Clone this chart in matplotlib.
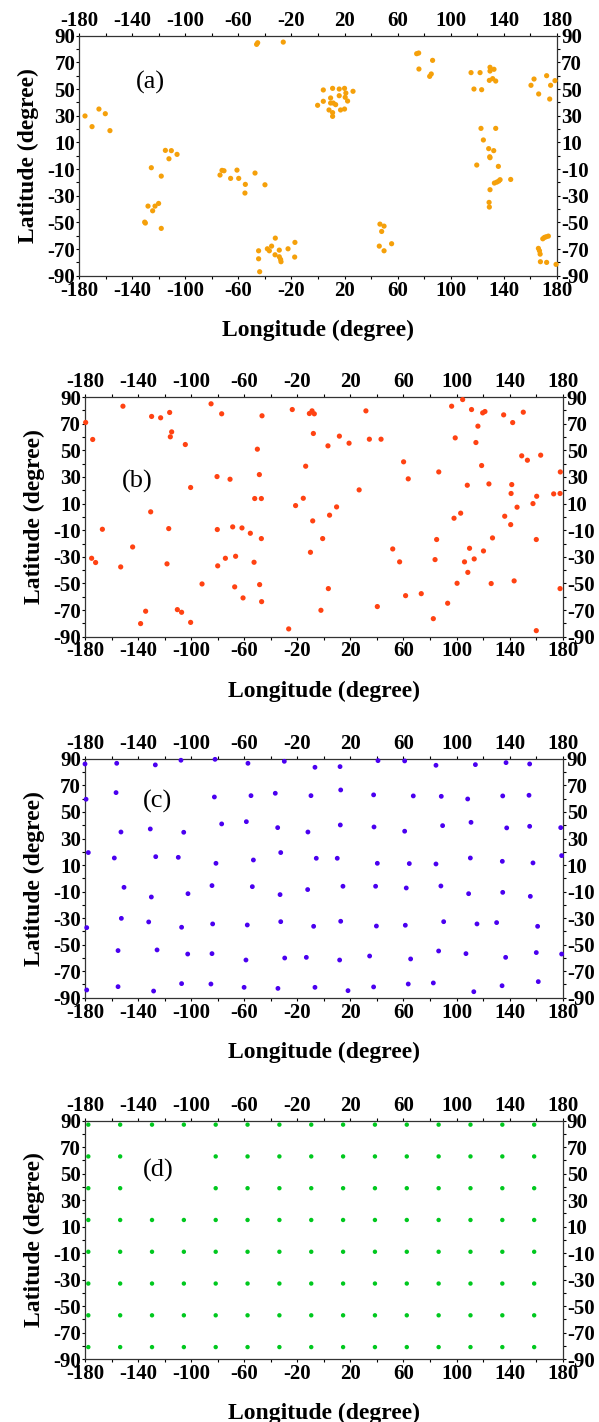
import numpy as np
import matplotlib
matplotlib.use("Agg")
import matplotlib.pyplot as plt
from matplotlib.ticker import MultipleLocator

plt.rcParams['font.family'] = ['Liberation Serif', 'DejaVu Serif']
plt.rcParams['font.weight'] = 'bold'
plt.rcParams['axes.unicode_minus'] = False

# (a) clustered stations
lon_a = [-46.3, -45.5, -26.2, -175.7, -170.4, -165.2, -160.4, -156.9,
         -125.7, -118.2, -115.1, -112.4, -110.6, -106.3,
         -128.2, -124.7, -122.9, -120.2, -130.7, -130.2, -118.2,
         -73.9, -72.4, -70.9, -65.9, -61.1, -59.8, -54.8, -55.1, -47.5, -40.0,
         -44.8, -44.8, -44.0, -38.2, -36.7, -35.0, -32.4, -32.2, -29.2, -29.2,
         -28.2, -27.9, -22.6, -17.4, -17.6,
         -0.3, 4.0, 4.0, 8.3, 9.5, 9.5, 11.0, 11.0, 11.0, 11.5, 13.3, 16.0,
         16.0, 17.0, 20.0, 20.0, 20.5, 21.0, 22.3, 26.4,
         74.4, 75.9, 76.1, 86.4, 84.2, 85.4,
         115.4, 117.6, 122.2, 123.4, 129.2, 129.7, 129.7, 131.7, 132.7, 134.0,
         122.9, 134.0, 124.7, 128.7, 132.5, 129.5, 129.7, 119.7, 136.0,
         133.0, 134.8, 136.3, 137.3, 129.7, 145.3, 129.0, 129.2,
         160.6, 162.9, 166.4, 172.4, 175.4, 174.7, 178.7,
         46.7, 48.0, 49.8, 46.2, 49.8, 55.5,
         166.2, 167.0, 167.5, 167.7, 169.5, 170.7, 172.0, 173.7, 172.4, 179.5]
lat_a = [83.5, 84.7, 85.2, 29.8, 21.8, 35.0, 31.5, 18.8,
         -9.0, -15.3, 4.0, -2.3, 3.8, 1.0,
         -37.8, -41.3, -37.8, -35.8, -49.8, -50.5, -54.5,
         -14.5, -11.0, -11.3, -17.0, -10.8, -17.0, -21.5, -28.0, -13.0, -21.8,
         -71.3, -77.3, -87.0, -69.8, -71.3, -67.8, -74.3, -61.8, -70.8, -75.8,
         -77.8, -79.5, -69.8, -65.0, -76.0,
         37.8, 49.3, 40.8, 34.3, 43.3, 39.5, 50.5, 32.3, 29.5, 39.5, 38.3, 50.0,
         45.0, 34.3, 50.5, 35.0, 43.8, 47.0, 41.0, 48.3,
         76.5, 77.0, 65.0, 71.5, 59.5, 61.3,
         62.3, 50.0, 62.3, 49.5, 56.5, 66.3, 63.5, 57.8, 64.8, 56.0,
         20.5, 20.5, 11.8, 5.3, 3.8, -0.8, -1.5, -7.0, -8.0,
         -20.5, -19.8, -19.0, -18.0, -25.5, -17.8, -35.0, -38.5,
         52.8, 57.5, 46.3, 60.0, 52.8, 42.5, 56.3,
         -51.3, -56.8, -52.8, -67.8, -71.3, -66.0,
         -69.5, -71.3, -73.8, -79.5, -62.3, -61.3, -60.8, -60.3, -80.0, -81.5]

# (b) random stations
lon_b = [-179.5, -174.2, -151.4, -129.8, -123.0, -116.2, -114.7, -115.7, -104.4,
         -85.0, -77.0, -46.6, -80.5, -70.7, -100.4, -50.1, -48.6, -52.1, -47.1,
         -130.5, -166.9, -116.9, -80.3, -68.7, -61.7, -55.4, -47.1, -144.1,
         -175.0, -172.0, -153.1, -118.2, -80.0, -74.2, -66.5, -52.6, -91.8,
         -67.2, -48.4, -60.9, -46.9, -134.3, -138.1, -110.4, -107.2, -100.4,
         -26.5, -23.8, -21.3,
         -10.9, -8.9, -7.2, -7.9, 3.1, 11.7, 19.0, 31.7, 34.3, 43.1, -13.7,
         -15.5, -8.4, 9.6, 4.3, 26.6, -0.9, -10.1, 3.4, -2.2, 60.1, 63.6,
         51.9, 57.1, 61.6, 73.4, 40.3, 82.5, 86.6, 85.0, 83.8, 93.3, 96.3,
         99.0, 104.6, 111.3, 119.7, 121.4, 116.1, 114.6, 118.9, 135.5, 142.3,
         150.3, 124.4, 108.1, 98.1, 103.1, 136.3, 140.8, 141.6, 141.1, 145.6,
         149.1, 153.4, 163.4, 157.6, 160.4, 173.2, 178.0, 178.2, 127.1, 120.3,
         109.8, 106.0, 113.3, 108.5, 100.4, 126.1, 143.4, 160.1, 178.0, 160.1]
lat_b = [71.0, 58.2, 83.2, 75.5, 74.5, 78.5, 63.9, 60.2, 54.4,
         85.0, 77.5, 76.0, 30.3, 28.3, 22.1, 50.9, 31.8, 13.8, 13.8,
         3.8, -9.3, -8.8, -9.5, -7.5, -8.3, -12.3, -16.3, -22.6,
         -31.1, -34.3, -37.6, -35.3, -36.8, -31.1, -29.6, -34.1, -50.4,
         -52.6, -50.9, -60.9, -63.7, -70.9, -80.2, -69.7, -71.7, -79.3,
         -84.2, 80.7, 8.5,
         77.7, 79.7, 77.5, 62.7, 53.4, 60.7, 55.4, 79.7, 58.4, 58.4, 38.1,
         14.0, -3.0, 7.5, 1.3, 20.3, -16.3, -26.6, -53.9, -70.2, 41.4, 28.6,
         -24.1, -33.8, -59.2, -57.7, -67.4, -76.5, 33.8, -17.0, -32.1, -64.9, 83.2,
         59.4, 88.2, 80.7, 78.2, 79.2, 68.2, 55.9, 38.6, 76.7, 70.9,
         78.7, 24.8, 23.8, -1.0, 2.8, 0.5, -5.8, 24.3, 17.6, 7.3,
         45.9, 42.6, 46.4, 10.0, 15.5, 17.3, 17.6, 33.8, -15.8, -25.6,
         -23.6, -33.8, -31.6, -41.7, -49.9, -50.1, -48.1, -17.0, -53.9, -85.5]

# (c) quasi-uniform stations
lon_c = [-180.0, -156.1, -127.0, -107.7, -82.0, -57.2, -29.8,
         -179.2, -156.6, -82.5, -54.9, -36.6,
         -152.9, -130.8, -105.6, -77.0, -58.4, -34.8,
         -177.5, -157.9, -126.7, -109.7, -81.3, -53.1, -32.5,
         -150.6, -130.0, -102.4, -84.3, -53.9, -33.0,
         -178.7, -152.6, -132.0, -107.2, -83.8, -57.7, -32.5,
         -155.1, -125.7, -102.6, -84.3, -58.7, -29.5,
         -178.7, -155.1, -128.3, -107.2, -85.1, -60.1, -34.6,
         -6.7, 12.2, 40.8, 60.9, 84.5, 114.2, 137.3, 155.1,
         -9.7, 12.7, 37.5, 67.4, 88.5, 108.4, 134.8, 154.6,
         -12.0, 12.4, 37.8, 60.9, 89.5, 110.9, 137.8, 155.1, 178.5,
         -5.7, 10.1, 40.3, 64.4, 84.5, 110.4, 134.5, 157.6, 179.2,
         -12.2, 14.4, 39.0, 62.1, 88.2, 109.1, 134.8, 155.6,
         -7.7, 12.7, 39.6, 61.4, 90.3, 115.4, 130.2, 161.1,
         -13.2, 11.9, 34.5, 65.4, 86.5, 107.1, 137.0, 160.1, 179.2,
         -6.7, 18.2, 37.5, 63.6, 82.5, 113.0, 134.3, 161.6]
lat_c = [86.2, 86.7, 85.5, 89.0, 89.7, 86.7, 88.2,
         59.6, 64.6, 61.3, 62.3, 64.1,
         34.9, 37.2, 34.7, 41.0, 42.7, 38.2,
         19.4, 15.3, 16.3, 15.8, 11.3, 13.8, 19.4,
         -6.8, -14.1, -11.6, -5.5, -6.3, -12.3,
         -37.2, -30.2, -32.9, -36.9, -34.4, -35.2, -32.7,
         -54.5, -54.0, -57.1, -56.8, -61.6, -60.1,
         -84.2, -81.7, -85.0, -79.4, -79.7, -82.2, -83.0,
         83.7, 84.2, 88.7, 88.5, 85.2, 85.7, 87.2, 86.2,
         62.3, 66.6, 62.9, 62.1, 61.8, 59.8, 62.1, 62.6,
         34.9, 40.2, 38.7, 35.5, 39.7, 42.2, 38.0, 39.2, 38.2,
         15.1, 15.1, 11.3, 11.1, 10.8, 15.3, 12.8, 11.6, 17.1,
         -8.5, -6.0, -6.0, -7.3, -5.8, -11.6, -10.6, -13.6,
         -36.2, -32.4, -36.0, -35.4, -32.7, -34.4, -33.4, -36.2,
         -59.6, -61.6, -58.6, -60.8, -54.8, -56.8, -59.6, -56.0, -57.1,
         -82.2, -84.7, -81.9, -79.7, -78.9, -85.5, -81.0, -77.9]

# (d) regular grid stations
grid_lon_d = [-177.5, -153.5, -129.5, -105.5, -81.5, -57.5, -33.5, -9.5,
              14.5, 38.5, 62.5, 86.5, 110.5, 134.5, 158.5]
grid_lat_d = [87, 63, 39, 15, -9, -33, -57, -81]
missing_d = [(-129.5, 63), (-105.5, 63), (-129.5, 39), (-105.5, 39)]
lon_d, lat_d = [], []
for la in grid_lat_d:
    for lo in grid_lon_d:
        if (lo, la) not in missing_d:
            lon_d.append(lo)
            lat_d.append(la)

panels = [
    (lon_a, lat_a, '#F5A00A', 14, '(a)', (0.148, 0.807), [0.1324, 0.8061, 0.797, 0.1688]),
    (lon_b, lat_b, '#FF4212', 14, '(b)', (0.109, 0.650), [0.1419, 0.5523, 0.7975, 0.1684]),
    (lon_c, lat_c, '#4A00F0', 12, '(c)', (0.152, 0.821), [0.1419, 0.2984, 0.7975, 0.1679]),
    (lon_d, lat_d, '#00C81E', 10, '(d)', (0.153, 0.793), [0.1419, 0.0443, 0.7975, 0.1676]),
]

fig = plt.figure(figsize=(5.99, 14.22), dpi=100)

for lon, lat, col, size, tag, tpos, rect in panels:
    ax = fig.add_axes(rect)
    ax.scatter(lon, lat, s=size, color=col, edgecolors='none', clip_on=False, zorder=3)
    ax.set_xlim(-180, 180)
    ax.set_ylim(-90, 90)
    ax.set_xticks(np.arange(-180, 181, 40))
    ax.xaxis.set_minor_locator(MultipleLocator(20))
    ax.set_yticks(np.arange(-90, 91, 20))
    ax.yaxis.set_minor_locator(MultipleLocator(10))
    ax.tick_params(which='both', direction='out', length=2.5, width=0.8,
                   top=True, right=True, labeltop=True, labelright=True,
                   labelsize=15, pad=0.5, colors='black')
    ax.tick_params(axis='x', pad=1.0)
    for s in ax.spines.values():
        s.set_linewidth(0.9)
        s.set_color('#333333')
    ax.set_xlabel('Longitude (degree)', fontsize=17, fontweight='bold', labelpad=14)
    ax.set_ylabel('Latitude (degree)', fontsize=17, fontweight='bold', labelpad=6)
    ax.text(tpos[0], tpos[1], tag, transform=ax.transAxes, fontsize=19,
            fontweight='normal', ha='center', va='center')

fig.savefig('out.png', dpi=100)
